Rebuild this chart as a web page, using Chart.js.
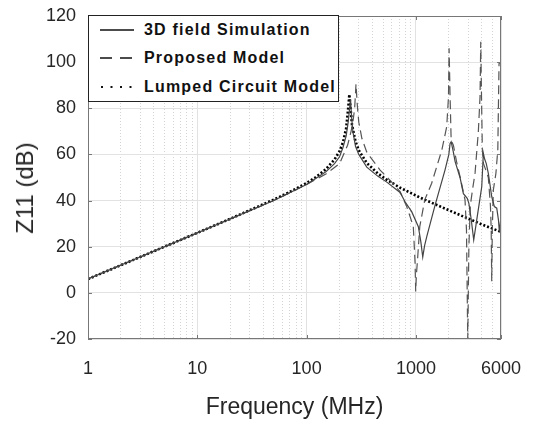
<!DOCTYPE html>
<html>
<head>
<meta charset="utf-8">
<script src="https://cdn.jsdelivr.net/npm/chart.js@4.4.0/dist/chart.umd.min.js"></script>
<style>
  body { margin: 0; background: #fff; }
  #wrap { position: relative; width: 533px; height: 422px; }
  #legend { position: absolute; left: 88px; top: 15px; width: 249px; height: 85px; border: 1.5px solid #222;
            background: #fff; font: bold 16px "Liberation Sans", Arial, sans-serif; letter-spacing: 1.2px; color: #111; }
  .row { position: absolute; left: 11px; height: 20px; display: flex; align-items: center; white-space: nowrap; }
  .row svg { width: 34px; height: 6px; margin-right: 10px; }
  #ytitle { position: absolute; left: 25px; top: 188px; transform: translate(-50%, -50%) rotate(-90deg);
            font: 24px "Liberation Sans", Arial, sans-serif; color: #262626; white-space: nowrap; }
</style>
</head>
<body>
<div id="wrap">
  <canvas id="z11" width="533" height="422"></canvas>
  <div id="ytitle">Z11 (dB)</div>
  <div id="legend">
    <div class="row" style="top:4px"><svg><line x1="0" y1="3" x2="34" y2="3" stroke="#111" stroke-width="1.6"/></svg>3D field Simulation</div>
    <div class="row" style="top:32px"><svg><line x1="0" y1="3" x2="34" y2="3" stroke="#111" stroke-width="1.6" stroke-dasharray="12 8"/></svg>Proposed Model</div>
    <div class="row" style="top:61px"><svg><line x1="1" y1="3" x2="34" y2="3" stroke="#111" stroke-width="2" stroke-dasharray="2 7.5"/></svg>Lumped Circuit Model</div>
  </div>
</div>
<script>
// values (frequency in MHz, Z11 in dB)
const simFreq = [1, 10, 50, 100, 150, 180, 200, 215, 230, 240, 246, 252, 258, 265, 280, 300, 355, 450, 541, 716, 795, 914, 1052, 1110, 1154, 1200, 1256, 1350, 1497, 1844, 2000, 2053, 2100, 2200, 2280, 2531, 2717, 2946, 3050, 3200, 3377, 3480, 3600, 3800, 3999, 4137, 4250, 4400, 4594, 4935, 5216, 5487, 5687, 5796, 6000];
const simDb =   [6, 26, 40, 47, 52.5, 56, 59, 63, 68, 74, 79, 84, 76, 70, 63.5, 60, 54.5, 50.5, 48, 43.5, 39.5, 35.2, 28.7, 22, 15.5, 20.5, 24.4, 30, 38, 53.2, 60, 64.8, 65.5, 61, 57, 50, 43, 41, 38.8, 32, 23, 27, 31.6, 39, 46, 60.5, 58, 56, 51.8, 41.7, 37.4, 36.7, 31.6, 26.5, 33];

const propFreq = [1, 10, 50, 100, 150, 200, 237, 255, 265, 275, 283, 290, 300, 320, 355, 380, 470, 600, 716, 824, 914, 946, 982, 995, 1010, 1034, 1084, 1204, 1393, 1728, 1912, 1985, 2010, 2053, 2100, 2200, 2350, 2531, 2812, 2900, 2978, 3050, 3146, 3300, 3475, 3724, 3858, 3917, 3980, 4050, 4150, 4450, 4594, 4800, 4880, 4935, 4990, 5106, 5390, 5610, 5757, 6000];
const propDb =   [6, 26, 40, 47, 51.5, 56, 64, 70, 74, 80, 90.5, 82, 74, 67, 61, 59, 53.2, 48, 43.9, 37.4, 31, 28.7, 13, 0.6, 8, 14.3, 28.7, 40.3, 47.5, 62, 72, 85, 106, 85, 66, 64, 57, 50.4, 40.3, 27.3, -20, 20, 38, 45, 52, 70, 85, 108.8, 85, 62, 56, 52, 50, 38, 28, 5, 26, 44.6, 51.8, 62, 99.4, 100];

const lumpFreq = [1, 2, 5, 10, 20, 50, 70, 100, 120, 150, 180, 200, 215, 230, 240, 246, 252, 260, 280, 300, 355, 450, 541, 716, 1089, 2000, 4000, 6000];
const lumpDb =   [6, 12, 20, 26, 32.1, 40.4, 43.7, 47.6, 50, 53.6, 57.8, 61.4, 65.2, 71.3, 80, 86, 80, 72.9, 65.6, 61.8, 56.3, 51.7, 49, 45.6, 41.3, 35.8, 29.7, 26.4];

const xTickLabels = [1, 10, 100, 1000, 6000];
const yTicks = [-20, 0, 20, 40, 60, 80, 100, 120];

const minorTicks = [];
[1, 10, 100, 1000].forEach(d => {
  for (let m = 2; m <= 9; m++) if (m * d < 6000) minorTicks.push(m * d);
});

const pairs = (xs, ys) => xs.map((x, i) => ({ x: x, y: ys[i] }));
const family = '"Liberation Sans", Arial, sans-serif';
const textColor = '#262626';

// keep the plot box fixed, labels may overhang the padding
const noOverhang = s => { s.paddingLeft = 0; s.paddingRight = 0; s.paddingTop = 0; s.paddingBottom = 0; };

const frame = {
  id: 'frame',
  afterDatasetsDraw(chart) {
    const { ctx, chartArea: a } = chart;
    const y = chart.scales.y, x = chart.scales.x;
    ctx.save();
    ctx.strokeStyle = '#777';
    ctx.lineWidth = 1;
    ctx.strokeRect(a.left + 0.5, a.top + 0.5, a.right - a.left - 1, a.bottom - a.top - 1);
    ctx.beginPath();
    yTicks.forEach(v => {
      const py = Math.round(y.getPixelForValue(v)) + 0.5;
      ctx.moveTo(a.left, py); ctx.lineTo(a.left + 4, py);
      ctx.moveTo(a.right, py); ctx.lineTo(a.right - 4, py);
    });
    xTickLabels.forEach(v => {
      const px = Math.round(x.getPixelForValue(v)) + 0.5;
      ctx.moveTo(px, a.bottom); ctx.lineTo(px, a.bottom - 4);
      ctx.moveTo(px, a.top); ctx.lineTo(px, a.top + 4);
    });
    ctx.stroke();
    ctx.restore();
  }
};

new Chart(document.getElementById('z11').getContext('2d'), {
  type: 'line',
  data: {
    datasets: [
      {
        label: '3D field Simulation',
        data: pairs(simFreq, simDb),
        borderColor: '#444',
        borderWidth: 1.2
      },
      {
        label: 'Proposed Model',
        data: pairs(propFreq, propDb),
        borderColor: '#555',
        borderWidth: 1.2,
        borderDash: [9, 5]
      },
      {
        label: 'Lumped Circuit Model',
        data: pairs(lumpFreq, lumpDb),
        borderColor: '#000',
        borderWidth: 2.6,
        borderDash: [2, 2]
      }
    ]
  },
  options: {
    responsive: false,
    animation: false,
    layout: { padding: { left: 0, right: 32, top: 16, bottom: 0 } },
    elements: { point: { radius: 0 }, line: { tension: 0, fill: false } },
    plugins: { legend: { display: false }, tooltip: { enabled: false } },
    scales: {
      x: {
        type: 'logarithmic',
        min: 1,
        max: 6000,
        afterBuildTicks: s => { s.ticks = xTickLabels.map(v => ({ value: v })); },
        afterFit: s => { s.height = 83; noOverhang(s); },
        ticks: {
          callback: v => String(v),
          autoSkip: false,
          maxRotation: 0,
          padding: 19,
          color: textColor,
          font: { family: family, size: 18 }
        },
        grid: { color: '#e2e2e2', drawTicks: false },
        border: { display: false },
        title: {
          display: true,
          text: 'Frequency (MHz)',
          color: textColor,
          font: { family: family, size: 23 },
          padding: { top: 0, bottom: 1 }
        }
      },
      xMinor: {
        type: 'logarithmic',
        position: 'bottom',
        min: 1,
        max: 6000,
        afterBuildTicks: s => { s.ticks = minorTicks.map(v => ({ value: v })); },
        afterFit: s => { s.height = 0; noOverhang(s); },
        ticks: { display: false },
        grid: { color: '#d4d4d4', drawTicks: false },
        border: { display: false, dash: [1, 2] }
      },
      y: {
        min: -20,
        max: 120,
        afterBuildTicks: s => { s.ticks = yTicks.map(v => ({ value: v })); },
        afterFit: s => { s.width = 88; noOverhang(s); },
        ticks: {
          padding: 12,
          color: textColor,
          font: { family: family, size: 18 }
        },
        grid: { color: '#e2e2e2', drawTicks: false },
        border: { display: false }
      }
    }
  },
  plugins: [frame]
});
</script>
</body>
</html>
